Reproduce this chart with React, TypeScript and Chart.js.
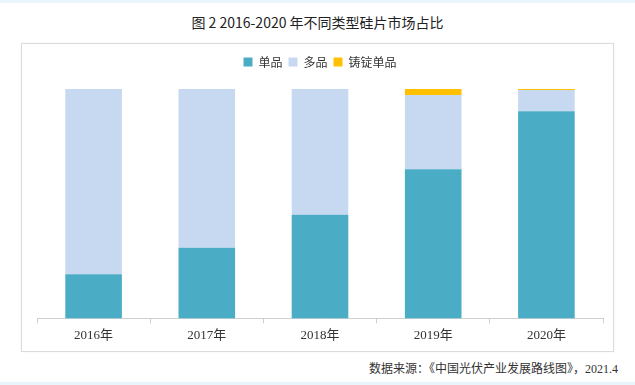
import React, { useEffect, useRef } from "react";
import { Chart, registerables } from "chart.js";

Chart.register(...registerables);

const categories = ["2016年", "2017年", "2018年", "2019年", "2020年"];
const monoValues = [19.3, 30.8, 45.2, 65.0, 90.3];
const multiValues = [80.7, 69.2, 54.8, 32.4, 9.3];
const castMonoValues = [0, 0, 0, 2.6, 0.4];
const seriesNames = ["单品", "多品", "铸锭单品"];
const titleText = "图 2 2016-2020 年不同类型硅片市场占比";
const sourceText = "数据来源：《中国光伏产业发展路线图》，2021.4";

const legendMargin = {
  id: "legendMargin",
  beforeInit(chart: any) {
    const legend = chart.legend;
    if (!legend) return;
    const orig = legend.fit;
    legend.fit = function () {
      orig.bind(legend)();
      this.height += 11;
    };
  },
};

export default function App() {
  const canvasRef = useRef<HTMLCanvasElement | null>(null);

  useEffect(() => {
    document.body.style.margin = "0";
    const canvas = canvasRef.current;
    if (!canvas) return;
    const chart = new Chart(canvas, {
      type: "bar",
      data: {
        labels: categories,
        datasets: [
          { label: seriesNames[0], data: monoValues, backgroundColor: "#4BACC6" },
          { label: seriesNames[1], data: multiValues, backgroundColor: "#C6D9F0" },
          { label: seriesNames[2], data: castMonoValues, backgroundColor: "#FFC000" },
        ],
      },
      plugins: [legendMargin],
      options: {
        responsive: false,
        animation: false,
        maintainAspectRatio: false,
        layout: { padding: { left: 15, right: 10, top: 6, bottom: 4 } },
        datasets: { bar: { barPercentage: 1, categoryPercentage: 0.5 } },
        plugins: {
          title: { display: false },
          tooltip: { enabled: false },
          legend: {
            display: true,
            position: "top",
            labels: {
              boxWidth: 9,
              boxHeight: 9,
              padding: 6,
              color: "#333",
              font: { size: 12, family: "'Noto Sans CJK SC', sans-serif" },
            },
          },
        },
        scales: {
          x: {
            stacked: true,
            offset: true,
            grid: {
              display: true,
              drawOnChartArea: false,
              drawTicks: true,
              tickLength: 5,
              color: "#d0d0d0",
              offset: true,
            },
            border: { display: true, color: "#d0d0d0" },
            ticks: {
              color: "#333",
              padding: 4,
              font: { size: 13, family: "'Liberation Serif', 'Noto Sans CJK SC', serif" },
            },
          },
          y: {
            stacked: true,
            display: false,
            min: 0,
            max: 100,
          },
        },
      },
    });
    return () => chart.destroy();
  }, []);

  return (
    <div style={{ position: "relative", width: 635, height: 385, background: "#fff", overflow: "hidden" }}>
      <div style={{ position: "absolute", left: 0, top: 0, width: 635, height: 3, background: "#eaf4fb" }} />
      <div
        style={{
          position: "absolute",
          left: 0,
          top: 12,
          width: 635,
          textAlign: "center",
          fontFamily: "'Noto Sans CJK SC', sans-serif",
          fontSize: 14,
          color: "#222",
          lineHeight: "20px",
        }}
      >
        {titleText}
      </div>
      <div
        style={{
          position: "absolute",
          left: 21,
          top: 43,
          width: 591,
          height: 307,
          border: "1px solid #dcdcdc",
          boxShadow: "0 0 2px rgba(0,0,0,0.06)",
        }}
      >
        <canvas ref={canvasRef} width={591} height={307} style={{ display: "block" }} />
      </div>
      <div
        style={{
          position: "absolute",
          right: 17,
          top: 360,
          fontFamily: "'Liberation Serif', 'Noto Sans CJK SC', serif",
          fontSize: 12,
          color: "#333",
          lineHeight: "18px",
          whiteSpace: "nowrap",
        }}
      >
        {sourceText}
      </div>
      <div style={{ position: "absolute", left: 0, top: 382, width: 635, height: 3, background: "#eaf4fb" }} />
    </div>
  );
}
